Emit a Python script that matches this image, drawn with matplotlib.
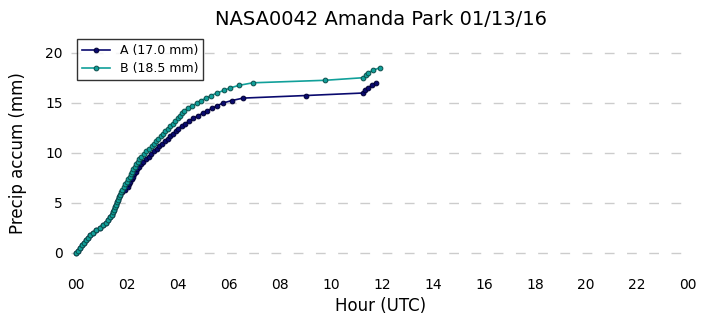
import matplotlib
matplotlib.use("Agg")
import matplotlib.pyplot as plt
from matplotlib.ticker import FixedLocator, FuncFormatter

title = "NASA0042 Amanda Park 01/13/16"

hours_a = [0.00, 0.08, 0.16, 0.24, 0.32, 0.40, 0.48, 0.56, 0.67, 0.80,
           0.93, 1.06, 1.16, 1.24, 1.33, 1.39, 1.43, 1.47, 1.51, 1.56,
           1.60, 1.64, 1.69, 1.73, 1.81, 1.93, 2.04, 2.08, 2.13, 2.18,
           2.23, 2.28, 2.34, 2.39, 2.47, 2.56, 2.64, 2.74, 2.84, 2.94,
           3.05, 3.16, 3.27, 3.38, 3.49, 3.59, 3.69, 3.80, 3.90, 4.00,
           4.15, 4.29, 4.44, 4.59, 4.78, 4.96, 5.14, 5.34, 5.54, 5.75,
           6.10, 6.55, 9.03, 11.27, 11.35, 11.44, 11.60, 11.76]
accum_a = [0.00, 0.25, 0.51, 0.76, 1.02, 1.27, 1.52, 1.78, 2.03, 2.29,
           2.54, 2.79, 3.05, 3.30, 3.56, 3.81, 4.06, 4.32, 4.57, 4.83,
           5.08, 5.33, 5.59, 5.84, 6.10, 6.35, 6.60, 6.86, 7.11, 7.37,
           7.62, 7.87, 8.13, 8.38, 8.64, 8.89, 9.14, 9.40, 9.65, 9.91,
           10.16, 10.41, 10.67, 10.92, 11.18, 11.43, 11.68, 11.94, 12.19, 12.45,
           12.70, 12.95, 13.21, 13.46, 13.72, 13.97, 14.22, 14.48, 14.73, 14.99,
           15.24, 15.49, 15.75, 16.00, 16.26, 16.51, 16.76, 17.02]

hours_b = [0.00, 0.08, 0.16, 0.24, 0.32, 0.40, 0.48, 0.56, 0.67, 0.80,
           0.93, 1.06, 1.16, 1.24, 1.33, 1.39, 1.43, 1.47, 1.51, 1.56,
           1.60, 1.64, 1.69, 1.73, 1.77, 1.82, 1.88, 1.93, 1.99, 2.05,
           2.10, 2.15, 2.20, 2.25, 2.31, 2.36, 2.42, 2.48, 2.55, 2.66,
           2.76, 2.87, 2.97, 3.06, 3.15, 3.23, 3.32, 3.41, 3.50, 3.60,
           3.69, 3.79, 3.89, 3.98, 4.06, 4.14, 4.24, 4.38, 4.55, 4.75,
           4.90, 5.10, 5.30, 5.53, 5.79, 6.05, 6.38, 6.93, 9.76, 11.27,
           11.36, 11.46, 11.66, 11.93]
accum_b = [0.00, 0.25, 0.51, 0.76, 1.02, 1.27, 1.52, 1.78, 2.03, 2.29,
           2.54, 2.79, 3.05, 3.30, 3.56, 3.81, 4.06, 4.32, 4.57, 4.83,
           5.08, 5.33, 5.59, 5.84, 6.10, 6.35, 6.60, 6.86, 7.11, 7.37,
           7.62, 7.87, 8.13, 8.38, 8.64, 8.89, 9.14, 9.40, 9.65, 9.91,
           10.16, 10.41, 10.67, 10.92, 11.18, 11.43, 11.68, 11.94, 12.19, 12.45,
           12.70, 12.95, 13.21, 13.46, 13.72, 13.97, 14.22, 14.48, 14.73, 14.99,
           15.24, 15.49, 15.75, 16.00, 16.26, 16.51, 16.76, 17.02, 17.27, 17.53,
           17.78, 18.03, 18.29, 18.54]

labels = ["A (17.0 mm)", "B (18.5 mm)"]
colors = ["#0a0a6e", "#11a09a"]
edge_colors = ["#000033", "#0b4d4a"]

x_ticks = [0, 2, 4, 6, 8, 10, 12, 14, 16, 18, 20, 22, 24]
y_ticks = [0, 5, 10, 15, 20]

fig = plt.figure(figsize=(7.06, 3.26), dpi=100)
ax = fig.add_axes([71 / 706, 1 - 273 / 326, 620 / 706, 240 / 326])

for hrs, acc, lab, c, ec in zip([hours_a, hours_b], [accum_a, accum_b],
                                labels, colors, edge_colors):
    ax.plot(hrs, acc, "-o", color=c, lw=1.2, ms=3.4, mfc=c, mec=ec,
            mew=0.7, label=lab)

ax.set_xlim(-0.2, 24.12)
ax.set_ylim(-2, 22)
ax.xaxis.set_major_locator(FixedLocator(x_ticks))
ax.xaxis.set_major_formatter(FuncFormatter(lambda v, p: "%02d" % (int(round(v)) % 24)))
ax.yaxis.set_major_locator(FixedLocator(y_ticks))
ax.tick_params(length=0, labelsize=10)
ax.tick_params(axis="x", pad=3.5)
ax.tick_params(axis="y", pad=6)
for s in ax.spines.values():
    s.set_visible(False)
ax.yaxis.grid(True, color="#cccccc", linestyle=(0, (7, 9)), lw=1)
ax.set_axisbelow(True)

ax.set_title(title, fontsize=14, pad=6)
ax.set_xlabel("Hour (UTC)", fontsize=12, labelpad=4)
ax.set_ylabel("Precip accum (mm)", fontsize=12, labelpad=13)

leg = ax.legend(loc="upper left", fontsize=9, frameon=True, fancybox=False,
                borderaxespad=0.5, handlelength=2.2, borderpad=0.4,
                labelspacing=0.4)
leg.get_frame().set_edgecolor("black")
leg.get_frame().set_linewidth(1.0)

fig.savefig("out.png", dpi=100)
